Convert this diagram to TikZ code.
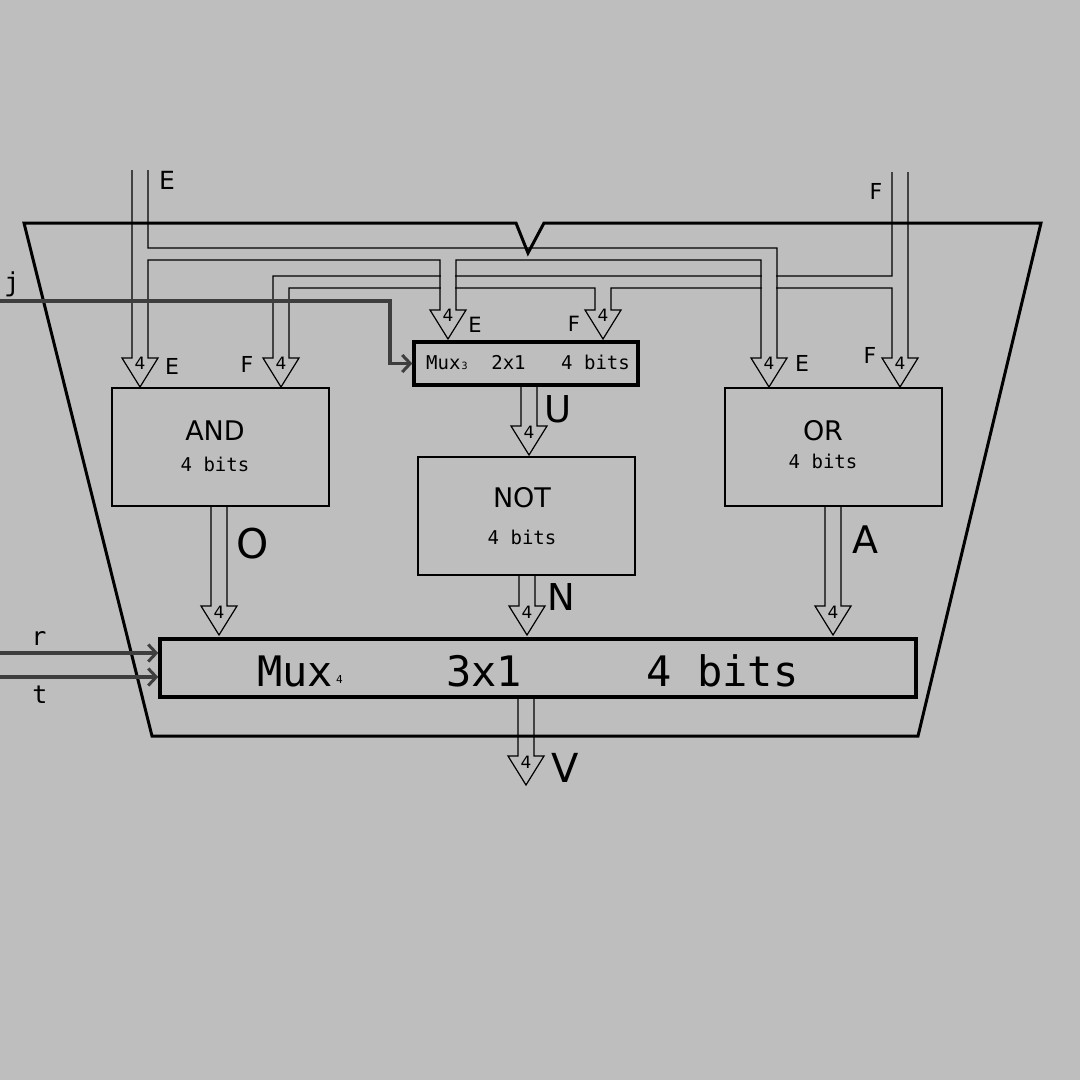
\documentclass[tikz,border=0pt]{standalone}
\usepackage{fontspec}
\setmainfont{DejaVu Sans}
\newfontfamily\monof{DejaVu Sans Mono}
\usetikzlibrary{arrows.meta}
\definecolor{bg}{RGB}{190,190,190}
\definecolor{selc}{RGB}{62,62,62}
\newcommand\fs[1]{\fontsize{#1}{#1}\selectfont}
% output pipe: center x, start y, head top y
\newcommand\outpipe[3]{%
  \draw[pipe] (#1-8,#2) -- (#1-8,#3) -- (#1-18,#3) -- (#1,#3+29) -- (#1+18,#3) -- (#1+8,#3) -- (#1+8,#2);}
\begin{document}
\begin{tikzpicture}[x=1pt,y=-1pt,
  pipe/.style={line width=1.2pt, line join=miter},
  frame/.style={line width=3pt, line join=miter},
  box/.style={draw, line width=1.6pt, inner sep=0pt, minimum width=217pt, minimum height=118pt},
  muxbox/.style={draw, line width=3.4pt, inner sep=0pt},
  selline/.style={draw=selc, line width=3.2pt, -{Straight Barb[length=8pt,width=17pt,line width=3pt]}},
  four/.style={font=\fs{17}, inner sep=0pt, anchor=base},
  lbl/.style={font=\fs{22}, inner sep=0pt, anchor=base},
  big/.style={inner sep=0pt, anchor=base},
  mt/.style={font=\monof, inner sep=0pt, anchor=base},
]
\useasboundingbox (0,0) rectangle (1080,1080);
\fill[bg] (0,0) rectangle (1080,1080);

% outer frame
\draw[frame] (24,223) -- (516,223) -- (528,253) -- (544,223) -- (1041,223) -- (918,736) -- (152,736) -- cycle;

% boxes
\node[box] (and) at (220.5,447) {};
\node[box] (not) at (526.5,516) {};
\node[box] (or) at (833.5,447) {};
\node[muxbox, minimum width=224pt, minimum height=43pt] (mux3) at (526,363.5) {};
\node[muxbox, minimum width=756pt, minimum height=58pt] (mux4) at (538,668) {};

% F bus
\draw[pipe] (892,172) -- (892,276) -- (273,276) -- (273,358) -- (263,358) -- (281,387) -- (299,358) -- (289,358)
  -- (289,288) -- (595,288) -- (595,310) -- (585,310) -- (603,339) -- (621,310) -- (611,310) -- (611,288)
  -- (892,288) -- (892,358) -- (882,358) -- (900,387) -- (918,358) -- (908,358) -- (908,172);
% gaps where E passes over F
\fill[bg] (440.7,268) rectangle (455.3,296);
\fill[bg] (761.7,268) rectangle (776.3,296);
% E bus
\draw[pipe] (132,170) -- (132,358) -- (122,358) -- (140,387) -- (158,358) -- (148,358) -- (148,260)
  -- (440,260) -- (440,310) -- (430,310) -- (448,339) -- (466,310) -- (456,310) -- (456,260)
  -- (761,260) -- (761,358) -- (751,358) -- (769,387) -- (787,358) -- (777,358) -- (777,248)
  -- (148,248) -- (148,170);

% output pipes
\outpipe{529}{385}{426}
\outpipe{219}{506}{606}
\outpipe{527}{575}{606}
\outpipe{833}{506}{606}
\outpipe{526}{697}{756}

% width labels
\node[four] (w1) at (140,369) {4};
\node[four] (w2) at (281,369) {4};
\node[four] (w3) at (448,321) {4};
\node[four] (w4) at (603,321) {4};
\node[four] (w5) at (769,369) {4};
\node[four] (w6) at (900,369) {4};
\node[four] (w7) at (529,438) {4};
\node[four] (w8) at (219,618) {4};
\node[four] (w9) at (527,618) {4};
\node[four] (w10) at (833,618) {4};
\node[four] (w11) at (526,768) {4};

% selector lines
\coordinate (js) at (0,301);
\coordinate (jb) at (390,301);
\draw[selline] (js) -- (jb) |- (mux3.west);
\coordinate (rs) at (0,653);
\coordinate (ts) at (0,677);
\draw[selline] (rs) -- (rs -| mux4.west);
\draw[selline] (ts) -- (ts -| mux4.west);
\node[mt, font=\monof\fs{26}] (lj) at (12,291) {j};
\node[mt, font=\monof\fs{25}] (lr) at (39,645) {r};
\node[mt, font=\monof\fs{25}] (lt) at (40,703) {t};

% box texts
\node[big, font=\fs{27}] (tand) at (215,440) {AND};
\node[mt, font=\monof\fs{19}] (band) at (215,471) {4 bits};
\node[big, font=\fs{27}] (tnot) at (522,507) {NOT};
\node[mt, font=\monof\fs{19}] (bnot) at (522,544) {4 bits};
\node[big, font=\fs{27}] (tor) at (823,440) {OR};
\node[mt, font=\monof\fs{19}] (bor) at (823,468) {4 bits};

\node[mt, font=\monof\fs{19}, anchor=base west] (m3a) at (426,369) {Mux};
\node[mt, font=\monof\fs{10}, anchor=base west] (m3s) at (461.5,369) {3};
\node[mt, font=\monof\fs{19}] (m3b) at (508.5,369) {2x1};
\node[mt, font=\monof\fs{19}] (m3c) at (595.5,369) {4 bits};

\node[mt, font=\monof\fs{42}, anchor=base west] (m4a) at (257,686) {Mux};
\node[mt, font=\monof\fs{11}, anchor=base west] (m4s) at (336,683) {4};
\node[mt, font=\monof\fs{42}] (m4b) at (484,686) {3x1};
\node[mt, font=\monof\fs{42}] (m4c) at (722.5,686) {4 bits};

% signal labels
\node[lbl, font=\fs{25}] (le0) at (167,189) {E};
\node[lbl] (lf0) at (876,199) {F};
\node[lbl] (le1) at (172,374) {E};
\node[lbl] (lf1) at (247,372) {F};
\node[lbl, font=\fs{21}] (le2) at (475,332) {E};
\node[lbl, font=\fs{21}] (lf2) at (574,331) {F};
\node[lbl] (le3) at (802,371) {E};
\node[lbl] (lf3) at (870,363) {F};
\node[big, font=\fs{37}] (lu) at (558,422) {U};
\node[big, font=\fs{41}] (lo) at (253,558) {O};
\node[big, font=\fs{37}] (ln) at (561,610) {N};
\node[big, font=\fs{38}] (la) at (865,553) {A};
\node[big, font=\fs{40}] (lv) at (565,782) {V};
\end{tikzpicture}
\end{document}
